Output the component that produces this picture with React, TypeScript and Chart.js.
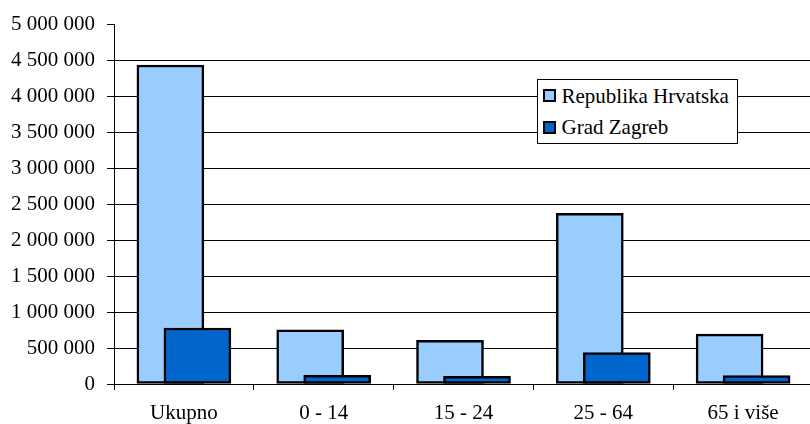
import React, { useEffect, useRef } from "react";
import { Chart, registerables } from "chart.js";

Chart.register(...registerables);

const CATEGORIES = ["Ukupno", "0 - 14", "15 - 24", "25 - 64", "65 i više"];
const SERIES_NAMES = ["Republika Hrvatska", "Grad Zagreb"];
const HRVATSKA = [4437460, 754634, 607000, 2375000, 693540];
const ZAGREB = [779145, 122000, 106000, 437000, 118000];
const SERIES_COLORS = ["#99CCFF", "#0066CC"];
const Y_TICKS = [0, 500000, 1000000, 1500000, 2000000, 2500000, 3000000, 3500000, 4000000, 4500000, 5000000];
const Y_TICK_LABELS = ["0", "500 000", "1 000 000", "1 500 000", "2 000 000", "2 500 000", "3 000 000", "3 500 000", "4 000 000", "4 500 000", "5 000 000"];

const FONT = "'Liberation Serif', 'Times New Roman', serif";
// horizontal shift of each series inside its category, in category units (overlapping bars)
const BAR_SHIFT = 0.0966;
const BAR_WIDTH = 67;

const toPoints = (values: number[]) => CATEGORIES.map((_, i) => ({ x: i, y: values[i] }));

export default function App() {
  const ref = useRef<HTMLCanvasElement | null>(null);

  useEffect(() => {
    if (!ref.current) return;
    const n = CATEGORIES.length;
    // shift > 0 moves the bars to the right within their category
    const hiddenAxis = (shift: number) => ({
      type: "linear" as const,
      position: "bottom" as const,
      display: false,
      offset: false,
      bounds: "data" as const,
      min: -0.5 - shift,
      max: n - 0.5 - shift,
    });
    const barCommon = {
      borderColor: "#000000",
      borderWidth: 2.5,
      borderSkipped: false as const,
      grouped: false,
      barThickness: BAR_WIDTH,
    };
    const chart = new Chart(ref.current, {
      type: "bar",
      data: {
        labels: CATEGORIES,
        datasets: [
          { ...barCommon, label: SERIES_NAMES[1], data: toPoints(ZAGREB) as any, xAxisID: "xb", backgroundColor: SERIES_COLORS[1] },
          { ...barCommon, label: SERIES_NAMES[0], data: toPoints(HRVATSKA) as any, xAxisID: "xa", backgroundColor: SERIES_COLORS[0] },
        ],
      },
      options: {
        responsive: false,
        animation: false,
        layout: { padding: { top: 23, left: 0, right: 0, bottom: 0 } },
        plugins: {
          legend: { display: false },
          tooltip: { enabled: false },
        },
        scales: {
          x: {
            type: "category",
            position: "bottom",
            offset: true,
            grid: {
              display: true,
              drawOnChartArea: false,
              drawTicks: true,
              tickLength: 6,
              offset: true,
              color: "#000000",
              tickColor: "#000000",
            },
            border: { display: true, color: "#000000", width: 1 },
            ticks: {
              font: { family: FONT, size: 21 },
              color: "#000000",
              padding: 11,
              maxRotation: 0,
              autoSkip: false,
            },
            afterFit: (s: any) => {
              s.height = 40;
            },
          },
          xa: hiddenAxis(-BAR_SHIFT),
          xb: hiddenAxis(BAR_SHIFT),
          y: {
            type: "linear",
            min: 0,
            max: 5000000,
            grid: {
              color: (ctx: any) => (ctx.tick && ctx.tick.value === 5000000 ? "rgba(0,0,0,0)" : "#000000"),
              tickColor: "#000000",
              tickLength: 7,
              lineWidth: 1,
            },
            border: { display: true, color: "#000000", width: 1 },
            ticks: {
              stepSize: 500000,
              font: { family: FONT, size: 21 },
              color: "#000000",
              padding: 12,
              callback: (value: any) => {
                const i = Y_TICKS.indexOf(Number(value));
                return i >= 0 ? Y_TICK_LABELS[i] : "";
              },
            },
            afterFit: (s: any) => {
              s.width = 114;
            },
          },
        } as any,
      },
    });
    return () => chart.destroy();
  }, []);

  return (
    <div
      style={{
        position: "absolute",
        left: 0,
        top: 0,
        width: 810,
        height: 424,
        overflow: "hidden",
        background: "#ffffff",
      }}
    >
      <canvas ref={ref} width={813} height={424} style={{ display: "block" }} />
      <div
        style={{
          position: "absolute",
          left: 537,
          top: 79,
          width: 199,
          height: 63,
          border: "1px solid #000000",
          background: "#ffffff",
          fontFamily: FONT,
          fontSize: 21,
          color: "#000000",
        }}
      >
        {SERIES_NAMES.map((name, i) => (
          <React.Fragment key={name}>
            <div
              style={{
                position: "absolute",
                left: 5,
                top: 9 + i * 31.5,
                width: 13,
                height: 13,
                boxSizing: "border-box",
                border: "2px solid #000000",
                background: SERIES_COLORS[i],
              }}
            />
            <div
              style={{
                position: "absolute",
                left: 23.5,
                top: 5.7 + i * 31.7,
                lineHeight: "21px",
                whiteSpace: "nowrap",
              }}
            >
              {name}
            </div>
          </React.Fragment>
        ))}
      </div>
    </div>
  );
}
